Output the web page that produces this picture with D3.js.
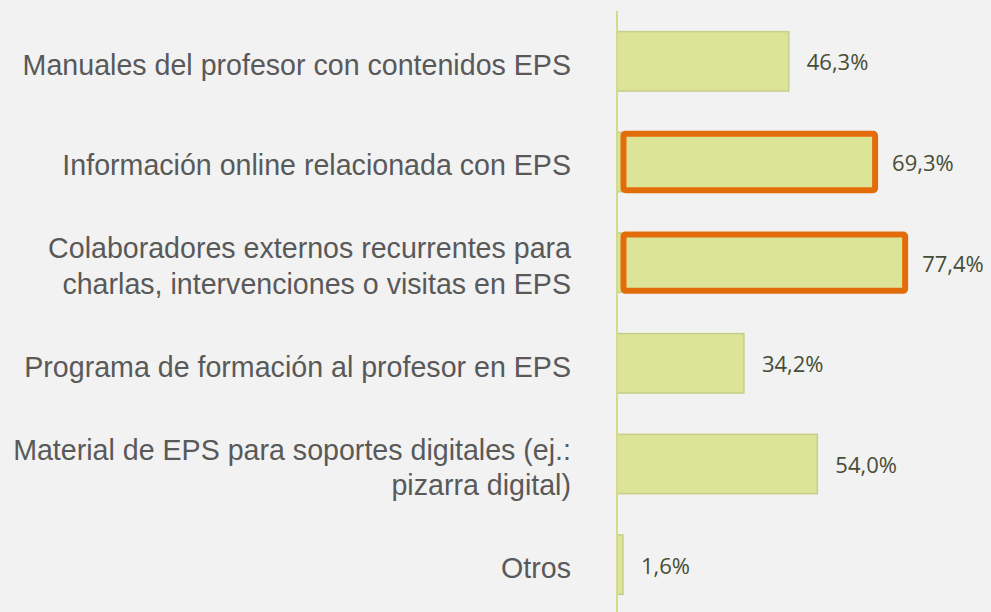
<!DOCTYPE html>
<html>
<head>
<meta charset="utf-8">
<script src="https://cdn.jsdelivr.net/npm/d3@7"></script>
<style>
  html, body { margin: 0; padding: 0; background: #f2f2f2; }
  svg { display: block; }
</style>
</head>
<body>
<svg id="chart" width="991" height="612"></svg>
<script>
const categories = [
  "Manuales del profesor con contenidos EPS",
  "Información online relacionada con EPS",
  "Colaboradores externos recurrentes para\ncharlas, intervenciones o visitas en EPS",
  "Programa de formación al profesor en EPS",
  "Material de EPS para soportes digitales (ej.:\npizarra digital)",
  "Otros"
];
const values = [46.3, 69.3, 77.4, 34.2, 54.0, 1.6];
const valueLabels = ["46,3%", "69,3%", "77,4%", "34,2%", "54,0%", "1,6%"];
const highlighted = [false, true, true, false, false, false];

const W = 991, H = 612;
const svg = d3.select("#chart");
svg.append("rect").attr("width", W).attr("height", H).attr("fill", "#f2f2f2");

const x = d3.scaleLinear().domain([0, 100]).range([617, 988]);
const y = d3.scaleBand().domain(d3.range(categories.length))
  .range([11, 615]).paddingInner(0.41).paddingOuter(0.205);

// bars
svg.append("g").selectAll("rect").data(values).join("rect")
  .attr("x", x(0))
  .attr("y", (d, i) => y(i))
  .attr("width", d => x(d) - x(0))
  .attr("height", y.bandwidth())
  .attr("fill", "#dce597")
  .attr("stroke", "#c6ce88")
  .attr("stroke-width", 1.5);

// axis line
svg.append("line")
  .attr("x1", x(0)).attr("x2", x(0))
  .attr("y1", 11).attr("y2", H)
  .attr("stroke", "#d3dc8e").attr("stroke-width", 2);

// highlight boxes
svg.append("g").selectAll("rect")
  .data(values.map((v, i) => ({v, i})).filter(d => highlighted[d.i]))
  .join("rect")
  .attr("x", d => x(0) + 6.5)
  .attr("y", d => y(d.i) + 1.5)
  .attr("width", d => x(d.v) + 1 - (x(0) + 6.5))
  .attr("height", y.bandwidth() - 3)
  .attr("rx", 2)
  .attr("fill", "none")
  .attr("stroke", "#e36c0a")
  .attr("stroke-width", 6);

// value labels
svg.append("g").selectAll("text").data(values).join("text")
  .attr("x", d => x(d) + 18)
  .attr("y", (d, i) => y(i) + y.bandwidth() / 2 + 1)
  .attr("dy", "0.36em")
  .attr("font-family", "'Open Sans', sans-serif")
  .attr("font-size", 22)
  .attr("fill", "#474d36")
  .text((d, i) => valueLabels[i]);

// category labels
const lineH = 35.5;
const cat = svg.append("g").selectAll("text").data(categories).join("text")
  .attr("text-anchor", "end")
  .attr("font-family", "'Liberation Sans', Arial, sans-serif")
  .attr("font-size", 28.6)
  .attr("fill", "#595959");
cat.each(function(d, i) {
  const lines = d.split("\n");
  const cy = y(i) + y.bandwidth() / 2 + 3;
  const t = d3.select(this);
  lines.forEach((ln, k) => {
    t.append("tspan")
      .attr("x", 571)
      .attr("y", cy + (k - (lines.length - 1) / 2) * lineH)
      .attr("dy", "0.36em")
      .text(ln);
  });
});
</script>
</body>
</html>
